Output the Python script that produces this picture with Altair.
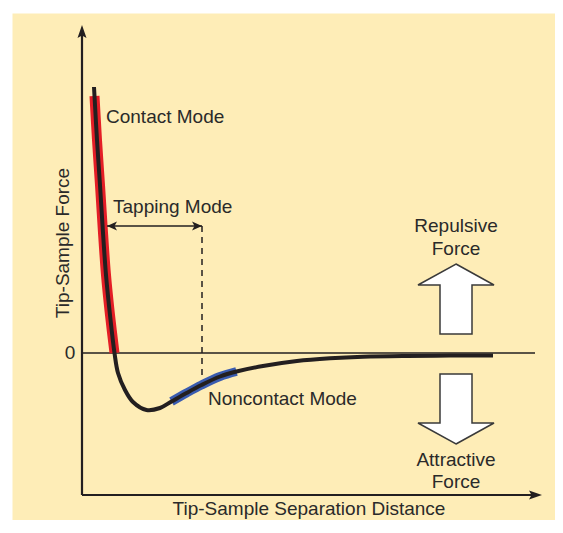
import altair as alt
import pandas as pd

# ---- data (schematic units: separation distance, force) ----
distance = [0.24, 0.25, 0.30, 0.36, 0.41, 0.48, 0.56, 0.65, 0.72, 0.86, 1.02,
            1.29, 1.56, 1.79, 2.09, 2.39, 2.76, 3.09, 3.62, 4.30, 4.96, 5.62, 6.50,
            7.36, 8.22]
force = [5.32, 5.14, 4.26, 3.36, 2.56, 1.56, 0.76, 0.0, -0.40, -0.74, -0.98,
         -1.14, -1.10, -0.97, -0.80, -0.64, -0.47, -0.37, -0.26, -0.16, -0.106, -0.074, -0.058,
         -0.052, -0.05]

contact_range = [0.25, 0.65]
noncontact_range = [1.79, 3.09]

tapping_span = [0.50, 2.40]
tapping_level = 2.54
dash_bottom = -0.64

axis_floor = -2.84
axis_top = 6.56
axis_right = 9.2
zero_span = [0.0, 9.06]

left_labels = ["Contact Mode", "Tapping Mode", "Noncontact Mode"]
left_x = [0.48, 0.62, 2.52]
left_y = [4.72, 2.92, -0.92]

center_labels = ["Repulsive", "Force", "Attractive", "Force", "0",
                 "Tip-Sample Separation Distance"]
center_x = [7.48, 7.48, 7.48, 7.48, -0.24, 4.54]
center_y = [2.54, 2.08, -2.13, -2.57, 0.0, -3.12]

y_title = "Tip-Sample Force"
y_title_pos = [-0.38, 2.2]

big_arrow_x = 7.48
up_arrow_tip = 1.78
down_arrow_tip = -1.82

# ---- styles ----
INK = "#231F20"
TXT = "#2a2a2a"
BG = "#FEEDB7"
RED = "#E41E26"
BLUE = "#3A5CB0"
FONT = "Liberation Sans"
FS = 19

xs = alt.Scale(domain=[-1.4, 9.46], nice=False, zero=False)
ys = alt.Scale(domain=[-3.34, 6.8], nice=False, zero=False)


def X(f="x"):
    return alt.X(f"{f}:Q", scale=xs, axis=None)


def Y(f="y"):
    return alt.Y(f"{f}:Q", scale=ys, axis=None)


curve_df = pd.DataFrame({"x": distance, "y": force})

curve_base = alt.Chart(curve_df).encode(x=X(), y=Y(), order="x:Q")

red = curve_base.transform_filter(
    (alt.datum.x >= contact_range[0]) & (alt.datum.x <= contact_range[1])
).mark_line(color=RED, strokeWidth=10, interpolate="catmull-rom", strokeCap="butt")

blue = curve_base.transform_filter(
    (alt.datum.x >= noncontact_range[0]) & (alt.datum.x <= noncontact_range[1])
).mark_line(color=BLUE, strokeWidth=9, interpolate="catmull-rom", strokeCap="butt")

black = curve_base.mark_line(color=INK, strokeWidth=4, interpolate="catmull-rom",
                             strokeCap="butt")

# zero line
zero = alt.Chart(pd.DataFrame({"x": [zero_span[0]], "x2": [zero_span[1]], "y": [0.0]})).mark_rule(
    color=INK, strokeWidth=1.3).encode(x=X(), x2="x2:Q", y=Y())

# axes lines
yaxis = alt.Chart(pd.DataFrame({"x": [0.0], "y": [axis_floor], "y2": [axis_top - 0.2]})).mark_rule(
    color=INK, strokeWidth=2.2).encode(x=X(), y=Y(), y2="y2:Q")
xaxis = alt.Chart(pd.DataFrame({"x": [0.0], "x2": [axis_right - 0.2], "y": [axis_floor]})).mark_rule(
    color=INK, strokeWidth=2.2).encode(x=X(), x2="x2:Q", y=Y())

up_head = "M0,0 L4.5,13 L0,10.5 L-4.5,13 Z"
right_head = "M0,0 L-13,-4.5 L-10.5,0 L-13,4.5 Z"
yhead = alt.Chart(pd.DataFrame({"x": [0.0], "y": [axis_top]})).mark_point(
    shape=up_head, size=4, filled=True, color=INK, opacity=1, strokeWidth=0).encode(x=X(), y=Y())
xhead = alt.Chart(pd.DataFrame({"x": [axis_right], "y": [axis_floor]})).mark_point(
    shape=right_head, size=4, filled=True, color=INK, opacity=1, strokeWidth=0).encode(x=X(), y=Y())

# tapping mode span
dash = alt.Chart(pd.DataFrame({"x": [tapping_span[1]], "y": [tapping_level], "y2": [dash_bottom]})).mark_rule(
    color=INK, strokeWidth=1.5, strokeDash=[6, 5]).encode(x=X(), y=Y(), y2="y2:Q")
tap = alt.Chart(pd.DataFrame({"x": [tapping_span[0]], "x2": [tapping_span[1]], "y": [tapping_level]})).mark_rule(
    color=INK, strokeWidth=1.5).encode(x=X(), x2="x2:Q", y=Y())
lhead = alt.Chart(pd.DataFrame({"x": [tapping_span[0]], "y": [tapping_level]})).mark_point(
    shape="M0,0 L10,-4.5 L7.5,0 L10,4.5 Z", size=4, filled=True, color=INK, opacity=1,
    strokeWidth=0).encode(x=X(), y=Y())
rhead = alt.Chart(pd.DataFrame({"x": [tapping_span[1]], "y": [tapping_level]})).mark_point(
    shape="M0,0 L-10,-4.5 L-7.5,0 L-10,4.5 Z", size=4, filled=True, color=INK, opacity=1,
    strokeWidth=0).encode(x=X(), y=Y())

# big hollow arrows
up_big = "M0,0 L38,21 L16,21 L16,70 L-16,70 L-16,21 L-38,21 Z"
down_big = "M0,0 L38,-21 L16,-21 L16,-70 L-16,-70 L-16,-21 L-38,-21 Z"
upA = alt.Chart(pd.DataFrame({"x": [big_arrow_x], "y": [up_arrow_tip]})).mark_point(
    shape=up_big, size=4, filled=True, fill="white", stroke="#3a3a3a", strokeWidth=1.5,
    opacity=1).encode(x=X(), y=Y())
downA = alt.Chart(pd.DataFrame({"x": [big_arrow_x], "y": [down_arrow_tip]})).mark_point(
    shape=down_big, size=4, filled=True, fill="white", stroke="#3a3a3a", strokeWidth=1.5,
    opacity=1).encode(x=X(), y=Y())

# texts
ltxt = alt.Chart(pd.DataFrame({"t": left_labels, "x": left_x, "y": left_y})).mark_text(
    align="left", baseline="middle", font=FONT, fontSize=FS, color=TXT).encode(
    x=X(), y=Y(), text="t:N")
ctxt = alt.Chart(pd.DataFrame({"t": center_labels, "x": center_x, "y": center_y})).mark_text(
    align="center", baseline="middle", font=FONT, fontSize=FS, color=TXT).encode(
    x=X(), y=Y(), text="t:N")
ytxt = alt.Chart(pd.DataFrame({"t": [y_title], "x": [y_title_pos[0]], "y": [y_title_pos[1]]})).mark_text(
    align="center", baseline="middle", font=FONT, fontSize=FS, color=TXT, angle=270).encode(
    x=X(), y=Y(), text="t:N")

chart = alt.layer(
    zero, dash, yaxis, xaxis, yhead, xhead, red, blue, black, tap, lhead, rhead,
    upA, downA, ltxt, ctxt, ytxt
).properties(
    width=543, height=507,
    autosize=alt.AutoSizeParams(type="none"),
    padding={"left": 4, "top": 5, "right": 0, "bottom": 0},
    background="white",
).configure_view(fill=BG, strokeOpacity=0)

chart.save("out.html", embed_options={"renderer": "svg", "actions": False})
